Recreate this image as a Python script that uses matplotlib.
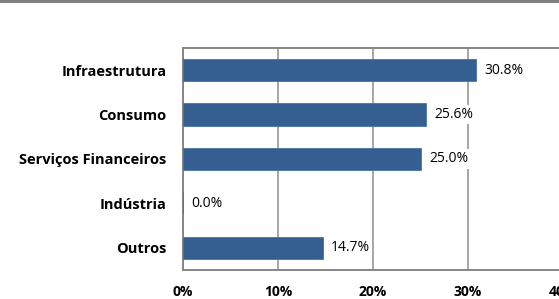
import matplotlib.pyplot as plt
from matplotlib.patches import Rectangle

categories = ["Infraestrutura", "Consumo", "Serviços Financeiros", "Indústria", "Outros"]
values = [30.8, 25.6, 25.0, 0.0, 14.7]
value_labels = ["30.8%", "25.6%", "25.0%", "0.0%", "14.7%"]
xticks = [0, 10, 20, 30, 40]
xtick_labels = ["0%", "10%", "20%", "30%", "40%"]

plt.rcParams["font.family"] = ["Open Sans", "DejaVu Sans"]

fig = plt.figure(figsize=(5.59, 2.99), dpi=100)
ax = fig.add_axes([0.3274, 0.097, 0.68, 0.7425])

ypos = list(range(len(categories)))[::-1]
ax.barh(ypos, values, height=0.5, color="#365F91", edgecolor="#4A72A6",
        linewidth=0.6, zorder=3)

for y, v, lab in zip(ypos, values, value_labels):
    ax.annotate(lab, (v, y), xytext=(6, 0), textcoords="offset points",
                ha="left", va="center", fontsize=10, color="black", zorder=4,
                bbox=dict(boxstyle="square,pad=0.15", fc="white", ec="none"))

ax.set_xlim(0, 40)
ax.set_ylim(-0.5, len(categories) - 0.5)
ax.set_xticks(xticks)
ax.set_xticklabels(xtick_labels, fontweight="bold", fontsize=10)
ax.set_yticks(ypos)
ax.set_yticklabels(categories, fontweight="bold", fontsize=10.5)
ax.tick_params(axis="both", length=0)
ax.tick_params(axis="y", pad=12)
ax.tick_params(axis="x", pad=11)

ax.grid(axis="x", color="#A6A6A6", linewidth=1.4, zorder=0)
for side in ["left", "bottom", "top"]:
    ax.spines[side].set_color("#868686")
    ax.spines[side].set_linewidth(1.4)
ax.spines["right"].set_visible(False)

# gray band along the top edge
fig.add_artist(Rectangle((0, 0.99), 1, 0.01, transform=fig.transFigure,
                         color="#808080", lw=0))

fig.savefig("out.png", dpi=100)
